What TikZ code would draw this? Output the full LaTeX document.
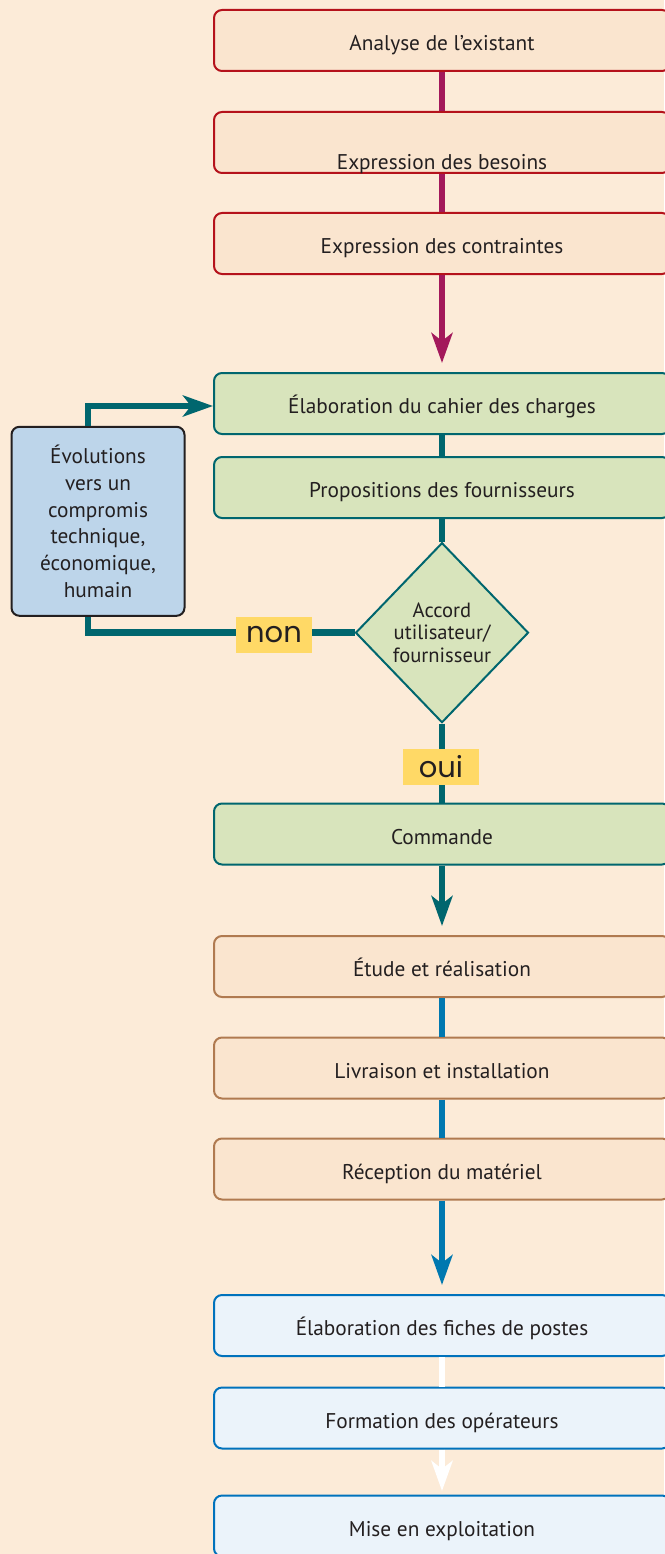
\documentclass[tikz,border=0pt]{standalone}
\usepackage{fontspec}
\setmainfont{PT Sans}
\newfontfamily\tagfont{Poppins}
\usetikzlibrary{shapes.geometric,arrows.meta}
\definecolor{bgc}{HTML}{FCEBD8}
\definecolor{txtc}{HTML}{231F20}
\definecolor{redfill}{HTML}{FAE5CF}
\definecolor{redline}{HTML}{B5121B}
\definecolor{magenta}{HTML}{A3195B}
\definecolor{greenfill}{HTML}{D8E4BC}
\definecolor{tealc}{HTML}{00666E}
\definecolor{bluebox}{HTML}{BDD5EA}
\definecolor{yellowc}{HTML}{FFD966}
\definecolor{brownline}{HTML}{B07A50}
\definecolor{bluec}{HTML}{0078B0}
\definecolor{lbluefill}{HTML}{EBF3FA}
\definecolor{lblueline}{HTML}{0072BC}
\tikzset{
  base/.style={rectangle, rounded corners=8pt, minimum width=456pt, minimum height=61pt, line width=2pt, text=txtc, font=\fontsize{21.3}{24}\selectfont, inner sep=0pt, text height=20pt, text depth=0pt},
  redbox/.style={base, draw=redline, fill=redfill},
  greenbox/.style={base, draw=tealc, fill=greenfill},
  brownbox/.style={base, draw=brownline, fill=redfill},
  lbluebox/.style={base, draw=lblueline, fill=lbluefill},
  txt/.style={text=txtc, font=\fontsize{21.3}{24}\selectfont, inner sep=0pt, text height=20pt, text depth=0pt},
  conn/.style={line width=6.5pt},
  arr/.style={conn, -{Stealth[length=30pt,width=21pt,inset=8pt]}},
  tag/.style={fill=yellowc, text=txtc, minimum width=76pt, minimum height=36pt, inner sep=0pt, font=\tagfont\fontsize{29}{30}\selectfont}
}
\begin{document}
\begin{tikzpicture}[x=1pt,y=-1pt]
\fill[bgc] (0,0) rectangle (664,1554);
\useasboundingbox (0,0) rectangle (664,1554);
% top red group
\node[redbox] (b1) at (442,40.5) {Analyse de l’existant};
\node[redbox] (b2) at (442,142.5) {};
\node[txt] (b2t) at (442,160) {Expression des besoins};
\node[redbox] (b3) at (442,243.5) {Expression des contraintes};
% green group
\node[greenbox] (g1) at (442,403.5) {Élaboration du cahier des charges};
\node[greenbox] (g2) at (442,487.5) {Propositions des fournisseurs};
\node[diamond, draw=tealc, fill=greenfill, line width=2pt, minimum width=173pt, minimum height=180pt, inner sep=0pt, text=txtc, align=center, font=\fontsize{20.6}{22.5}\selectfont] (d) at (442,632.7) {Accord\\utilisateur/\\fournisseur};
\node[rectangle, rounded corners=8pt, draw=txtc, fill=bluebox, line width=2pt, minimum width=173pt, minimum height=189pt, text=txtc, align=center, font=\fontsize{21.3}{26.8}\selectfont] (ev) at (98,521.3) {Évolutions\\vers un\\compromis\\technique,\\économique,\\humain};
\node[greenbox] (g3) at (442,834) {Commande};
% brown group
\node[brownbox] (r1) at (442,966.5) {Étude et réalisation};
\node[brownbox] (r2) at (442,1068) {Livraison et installation};
\node[brownbox] (r3) at (442,1169) {Réception du matériel};
% light blue group
\node[lbluebox] (l1) at (442,1325.5) {Élaboration des fiches de postes};
\node[lbluebox] (l2) at (442,1418) {Formation des opérateurs};
\node[lbluebox] (l3) at (442,1526) {Mise en exploitation};
\coordinate (a1) at (442,363);
\coordinate (a2) at (442,926);
\coordinate (a3) at (442,1285);
\coordinate (a4) at (442,1491);
% connectors
\draw[conn, magenta] (b1) -- (b2);
\draw[conn, magenta] (b2) -- (b3);
\draw[arr, magenta] (b3) -- (a1);
\draw[conn, tealc] (g1) -- (g2);
\draw[conn, tealc] (g2) -- (d);
\draw[arr, tealc] ([xshift=-10pt]ev.north) |- ([yshift=-2.5pt]g1.west);
\draw[conn, tealc] ([xshift=-10pt]ev.south) |- (d.west);
\draw[conn, tealc] (d) -- (g3);
\draw[arr, tealc] (g3) -- (a2);
\draw[conn, bluec] (r1) -- (r2);
\draw[conn, bluec] (r2) -- (r3);
\draw[arr, bluec] (r3) -- (a3);
\draw[conn, white] (l1) -- (l2);
\draw[arr, white] (l2) -- (a4);
\node[tag] (non) at (274,634.5) {non};
\node[tag] (oui) at (441,766.5) {oui};
\end{tikzpicture}
\end{document}
